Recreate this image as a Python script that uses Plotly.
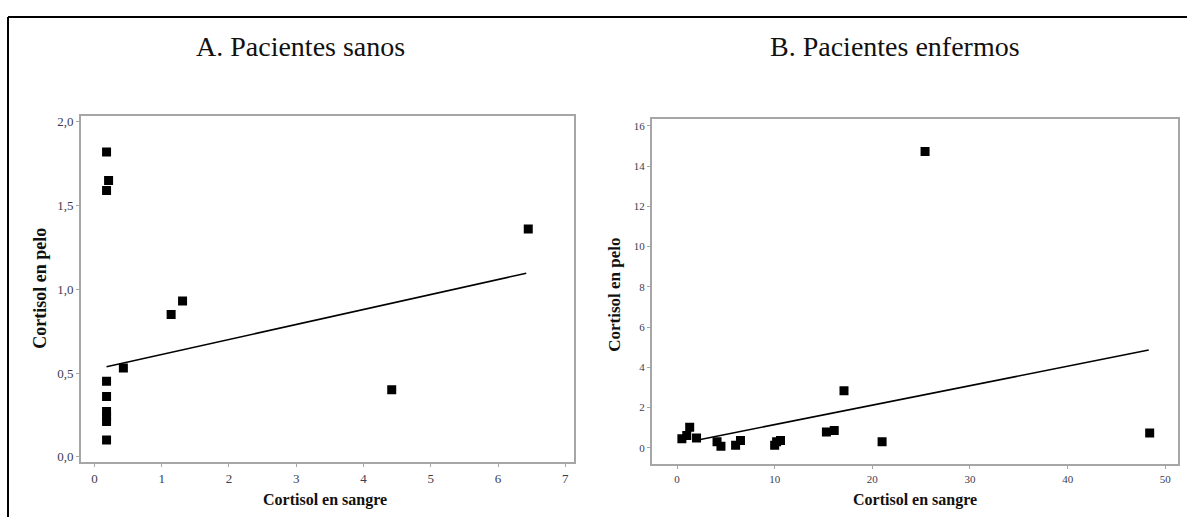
import plotly.graph_objects as go

# Panel A: pacientes sanos
sanos_sangre = [0.18, 0.21, 0.18, 0.18, 0.18, 0.18, 0.18, 0.18, 0.18, 0.43, 1.14, 1.31, 4.42, 6.45]
sanos_pelo = [1.82, 1.65, 1.59, 0.45, 0.36, 0.27, 0.24, 0.21, 0.10, 0.53, 0.85, 0.93, 0.40, 1.36]
sanos_recta_x = [0.18, 6.42]
sanos_recta_y = [0.537, 1.096]

# Panel B: pacientes enfermos
enfermos_sangre = [0.5, 1.0, 1.3, 2.0, 4.1, 4.5, 6.0, 6.5, 10.0, 10.2, 10.6, 15.3, 16.1, 17.1, 21.0, 25.4, 48.4]
enfermos_pelo = [0.46, 0.62, 1.03, 0.49, 0.30, 0.08, 0.13, 0.37, 0.13, 0.30, 0.37, 0.79, 0.87, 2.84, 0.30, 14.72, 0.74]
enfermos_recta_x = [2.4, 48.3]
enfermos_recta_y = [0.42, 4.86]

titulos = ["A. Pacientes sanos", "B. Pacientes enfermos"]
eje_x = "Cortisol en sangre"
eje_y = "Cortisol en pelo"

W, H = 1187, 519
SERIF = "Liberation Serif, Times New Roman, serif"
GRIS = "#a6a6a6"
TICK = "#3c3c50"


def px(x):
    return x / W


def py(y):
    return 1 - y / H


fig = go.Figure()

marker = dict(symbol="square", size=9, color="black", line=dict(width=0))
fig.add_trace(go.Scatter(x=sanos_sangre, y=sanos_pelo, mode="markers", marker=marker,
                         xaxis="x", yaxis="y", showlegend=False))
fig.add_trace(go.Scatter(x=sanos_recta_x, y=sanos_recta_y, mode="lines",
                         line=dict(color="black", width=1.6), xaxis="x", yaxis="y", showlegend=False))
fig.add_trace(go.Scatter(x=enfermos_sangre, y=enfermos_pelo, mode="markers", marker=marker,
                         xaxis="x2", yaxis="y2", showlegend=False))
fig.add_trace(go.Scatter(x=enfermos_recta_x, y=enfermos_recta_y, mode="lines",
                         line=dict(color="black", width=1.6), xaxis="x2", yaxis="y2", showlegend=False))

axis_common = dict(showgrid=False, zeroline=False, showline=True, mirror=True,
                   linecolor=GRIS, linewidth=2, ticks="outside", ticklen=3,
                   tickcolor=GRIS, tickwidth=1)

# plot areas (pixel boxes)
A_box = (81, 115, 574, 464)
B_box = (652, 118, 1178, 466)

fig.update_layout(
    width=W, height=H,
    margin=dict(l=0, r=0, t=0, b=0),
    paper_bgcolor="white", plot_bgcolor="white",
    separators=",.",
    xaxis=dict(domain=[px(A_box[0]), px(A_box[2])], range=[-0.2, 7.13],
               tickvals=list(range(0, 8)), tickfont=dict(family=SERIF, size=13, color=TICK),
               anchor="y", **axis_common),
    yaxis=dict(domain=[py(A_box[3]), py(A_box[1])], range=[-0.034, 2.034],
               tickvals=[0, 0.5, 1.0, 1.5, 2.0], tickformat=".1f",
               tickfont=dict(family=SERIF, size=13, color=TICK), anchor="x", **axis_common),
    xaxis2=dict(domain=[px(B_box[0]), px(B_box[2])], range=[-2.56, 51.3],
                tickvals=[0, 10, 20, 30, 40, 50], tickfont=dict(family=SERIF, size=11, color=TICK),
                anchor="y2", **axis_common),
    yaxis2=dict(domain=[py(B_box[3]), py(B_box[1])], range=[-0.82, 16.33],
                tickvals=list(range(0, 17, 2)), tickfont=dict(family=SERIF, size=11, color=TICK),
                anchor="x2", **axis_common),
)

annotations = [
    dict(text=titulos[0], x=px(301), y=py(45), font=dict(family=SERIF, size=28, color="#111")),
    dict(text=titulos[1], x=px(895), y=py(45), font=dict(family=SERIF, size=28, color="#111")),
    dict(text="<b>" + eje_x + "</b>", x=px(325), y=py(502), font=dict(family=SERIF, size=16, color="#111")),
    dict(text="<b>" + eje_x + "</b>", x=px(915), y=py(502), font=dict(family=SERIF, size=16, color="#111")),
    dict(text="<b>" + eje_y + "</b>", x=px(40), y=py(289), textangle=-90,
         font=dict(family=SERIF, size=18, color="#111")),
    dict(text="<b>" + eje_y + "</b>", x=px(615), y=py(295), textangle=-90,
         font=dict(family=SERIF, size=17, color="#111")),
]
for a in annotations:
    a.update(xref="paper", yref="paper", showarrow=False, xanchor="center", yanchor="middle")
fig.update_layout(annotations=annotations)

# outer frame: top and left edges
fig.add_shape(type="line", xref="paper", yref="paper", x0=px(8), y0=py(15), x1=1, y1=py(15),
              line=dict(color="black", width=2))
fig.add_shape(type="line", xref="paper", yref="paper", x0=px(8), y0=py(15), x1=px(8), y1=0,
              line=dict(color="black", width=2))

fig.write_html("out.html")
